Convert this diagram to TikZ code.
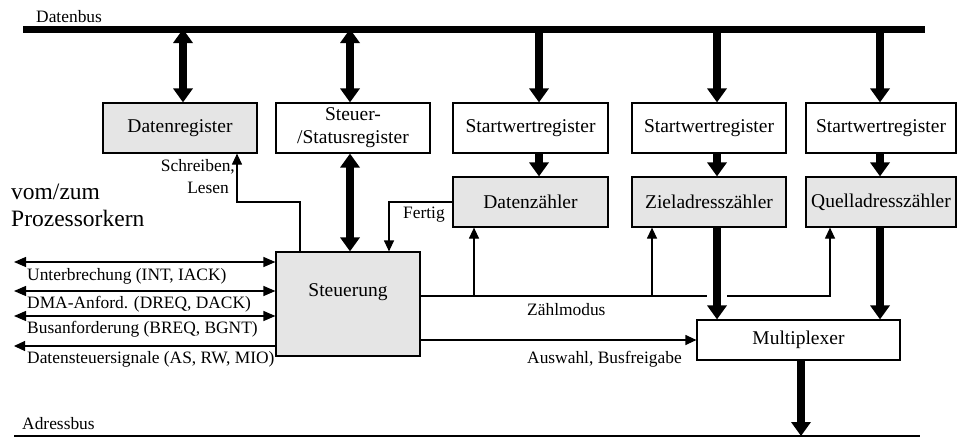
\documentclass[tikz,border=0pt]{standalone}
\usepackage{fontspec}
\setmainfont{Liberation Serif}
\usetikzlibrary{arrows.meta}
\begin{document}
\begin{tikzpicture}[x=1pt,y=-1pt,
  boxfont/.style={font=\fontsize{19.5}{23}\selectfont},
  lblfont/.style={font=\fontsize{17.4}{20}\selectfont},
  regbox/.style={draw,line width=1.2pt,boxfont,inner sep=0pt,align=center,
    minimum height=50pt},
  cntbox/.style={regbox,fill=black!10},
  thinline/.style={line width=1.2pt},
  tarr/.style={thinline,-{Triangle[length=11pt,width=10pt]}},
  tdbl/.style={thinline,{Triangle[length=12pt,width=10pt]}-{Triangle[length=12pt,width=10pt]}},
  bigarr/.style={line width=8pt,-{Triangle[length=14pt,width=19pt]}},
  bigdbl/.style={line width=8pt,{Triangle[length=14pt,width=19pt]}-{Triangle[length=14pt,width=19pt]}},
  lbl/.style={lblfont,inner sep=0pt,anchor=west}]
\useasboundingbox (0,0) rectangle (958,437);

% buses
\coordinate (dbL) at (23,29);
\coordinate (dbR) at (925,29);
\coordinate (abL) at (14,436);
\coordinate (abR) at (920,436);
\draw[line width=7pt] (dbL) -- (dbR);
\draw[line width=1.3pt] (abL) -- (abR);
\node[lbl] (dbus) at (36,17) {Datenbus};
\node[lbl] (abus) at (22,424) {Adressbus};

% registers
\node[cntbox,minimum width=154pt] (dreg) at (180,128) {Datenregister};
\node[regbox,minimum width=154pt] (sreg) at (353,128) {Steuer-\\/Statusregister};
\node[regbox,minimum width=155pt] (sw1) at (530.5,128) {Startwertregister};
\node[regbox,minimum width=154pt] (sw2) at (709,128) {Startwertregister};
\node[regbox,minimum width=150pt] (sw3) at (881,128) {Startwertregister};

% counters
\node[cntbox,minimum width=155pt] (dz) at (530.5,202) {Datenz\"ahler};
\node[cntbox,minimum width=154pt] (zz) at (709,202) {Zieladressz\"ahler};
\node[cntbox,minimum width=150pt] (qz) at (881,202) {Quelladressz\"ahler};

% control unit and multiplexer
\node[cntbox,minimum width=144pt,minimum height=104pt] (steu) at (348,304) {};
\node[boxfont,inner sep=0pt] (steut) at ([yshift=12pt]steu.center) {Steuerung};
\node[regbox,minimum width=203pt,minimum height=40pt] (mux) at (798.5,340) {Multiplexer};

% data bus connections
\draw[bigdbl] (dbL -| 183,0) -- ([xshift=3pt]dreg.north);
\draw[bigdbl] (dbL -| 350,0) -- ([xshift=-3pt]sreg.north);
\draw[bigarr] (dbL -| 539,0) -- ([xshift=8.5pt]sw1.north);
\draw[bigarr] (dbL -| 717,0) -- ([xshift=8pt]sw2.north);
\draw[bigarr] (dbL -| 880,0) -- ([xshift=-1pt]sw3.north);

% start values into counters
\draw[bigarr] ([xshift=8.5pt]sw1.south) -- ([xshift=8.5pt]dz.north);
\draw[bigarr] ([xshift=8pt]sw2.south) -- ([xshift=8pt]zz.north);
\draw[bigarr] ([xshift=-1pt]sw3.south) -- ([xshift=-1pt]qz.north);

% status register <-> control
\draw[bigdbl] ([xshift=-3pt]sreg.south) -- ([xshift=2pt]steu.north);

% address counters into multiplexer, multiplexer onto address bus
\draw[bigarr] ([xshift=8pt]zz.south) -- (mux.north -| 717,0);
\draw[bigarr] ([xshift=-1pt]qz.south) -- (mux.north -| 880,0);
\draw[bigarr] (mux.south -| 801,0) -- (abL -| 801,0);

% Schreiben/Lesen
\draw[tarr] (steu.north -| 300,0) |- (237,202) -- (dreg.south -| 237,0);
\node[lblfont,inner sep=0pt,anchor=east] (schr) at (235,167) {Schreiben,};
\node[lblfont,inner sep=0pt,anchor=east] (les) at (229,188) {Lesen};

% Fertig
\draw[tarr] (dz.west) -| (steu.north -| 389,0);
\node[lbl] (fert) at (403,215) {Fertig};

% Zaehlmodus
\coordinate (zm1) at (474,296);
\coordinate (zm2) at (652,296);
\coordinate (zmgapL) at (707,296);
\coordinate (zmgapR) at (727,296);
\draw[thinline] (steu.east |- zm1) -- (zmgapL);
\draw[tarr] (zmgapR) -| (qz.south -| 830,0);
\draw[tarr] (zm1) -- (dz.south -| zm1);
\draw[tarr] (zm2) -- (zz.south -| zm2);
\node[lbl] (zml) at (527,310) {Z\"ahlmodus};

% Auswahl, Busfreigabe
\draw[tarr] (steu.east |- mux.west) -- (mux.west);
\node[lbl] (ausw) at (527,359) {Auswahl, Busfreigabe};

% processor core signals
\node[font=\fontsize{23.5}{27}\selectfont,inner sep=0pt,anchor=west,align=left] (proc) at (11,205) {vom/zum\\Prozessorkern};
\coordinate (s1) at (14,262);
\coordinate (s2) at (14,291);
\coordinate (s3) at (14,316);
\coordinate (s4) at (14,346);
\draw[tdbl] (s1) -- (s1 -| steu.west);
\draw[tdbl] (s2) -- (s2 -| steu.west);
\draw[tdbl] (s3) -- (s3 -| steu.west);
\draw[tarr] (s4 -| steu.west) -- (s4);
\node[lbl] (l1) at (27,276) {Unterbrechung (INT, IACK)};
\node[lbl] (l2) at (27,304) {DMA-Anford. (DREQ, DACK)};
\node[lbl] (l3) at (27,329) {Busanforderung (BREQ, BGNT)};
\node[lbl] (l4) at (27,359) {Datensteuersignale (AS, RW, MIO)};
\end{tikzpicture}
\end{document}
